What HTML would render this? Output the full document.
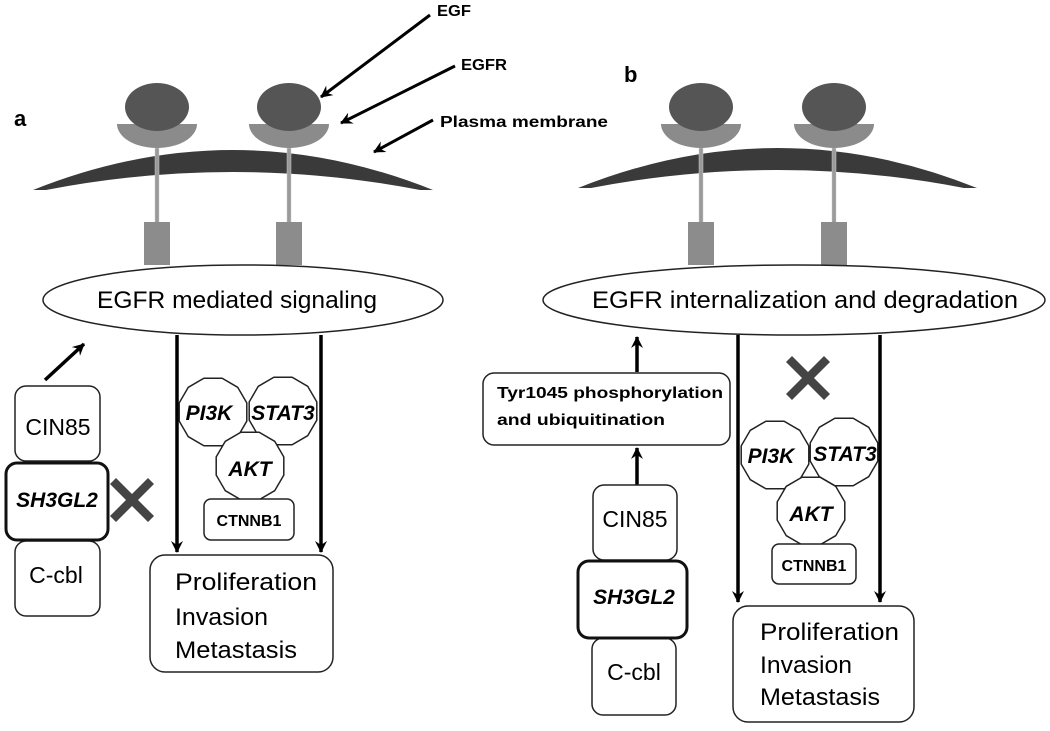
<!DOCTYPE html>
<html><head><meta charset="utf-8"><style>
html,body{margin:0;padding:0;background:#fff;}
svg{display:block;font-family:"Liberation Sans",sans-serif;}
</style></head><body>
<svg width="1050" height="731" viewBox="0 0 1050 731" xmlns="http://www.w3.org/2000/svg">
<defs>
<marker id="ah" viewBox="0 0 12 12" refX="11" refY="6" markerWidth="12" markerHeight="12" markerUnits="userSpaceOnUse" orient="auto">
<path d="M0,0 L12,6 L0,12 L4,6 Z" fill="#000"/>
</marker>
<polygon id="oct" points="33.8,9.1 24.7,24.7 9.1,33.8 -9.1,33.8 -24.7,24.7 -33.8,9.1 -33.8,-9.1 -24.7,-24.7 -9.1,-33.8 9.1,-33.8 24.7,-24.7 33.8,-9.1" fill="#fff" stroke="#222" stroke-width="1.5"/>
<g id="rec">
<rect x="-2" y="0" width="4" height="75" fill="#9a9a9a" stroke="#ccc" stroke-width="0.5"/>
<rect x="-13" y="74" width="26" height="43" fill="#8c8c8c"/>
<path d="M-40,-24 A40,24 0 0 0 40,-24 Z" fill="#8b8b8b"/>
<ellipse cx="0" cy="-41" rx="32" ry="24" fill="#555"/>
</g>
<g id="X"><path d="M-16,-22 L0,-6 L16,-22 L22,-16 L6,0 L22,16 L16,22 L0,6 L-16,22 L-22,16 L-6,0 L-22,-16 Z" fill="#444"/></g>
</defs>

<!-- Panel a -->
<text x="14" y="126" font-size="22" font-weight="bold">a</text>
<path d="M33,190 Q233,110 433,190 L420,190 Q233,154 46,190 Z" fill="#3a3a3a"/>
<use href="#rec" x="157" y="148"/>
<use href="#rec" x="289" y="148"/>

<line x1="430" y1="15" x2="321" y2="97" stroke="#000" stroke-width="3" marker-end="url(#ah)"/>
<line x1="455" y1="66" x2="341" y2="123" stroke="#000" stroke-width="3" marker-end="url(#ah)"/>
<line x1="433" y1="120" x2="374" y2="152" stroke="#000" stroke-width="3" marker-end="url(#ah)"/>
<text x="437" y="16" font-size="16" font-weight="bold" textLength="34" lengthAdjust="spacingAndGlyphs">EGF</text>
<text x="461" y="70" font-size="16" font-weight="bold" textLength="46" lengthAdjust="spacingAndGlyphs">EGFR</text>
<text x="440" y="127" font-size="16" font-weight="bold" textLength="168" lengthAdjust="spacingAndGlyphs">Plasma membrane</text>

<ellipse cx="243" cy="300" rx="200" ry="35" fill="#fff" stroke="#222" stroke-width="1.5"/>
<text x="97" y="308" font-size="24" textLength="280" lengthAdjust="spacingAndGlyphs">EGFR mediated signaling</text>

<line x1="45" y1="380" x2="84" y2="344" stroke="#000" stroke-width="3.5" marker-end="url(#ah)"/>
<rect x="15" y="386" width="85" height="75" rx="11" fill="#fff" stroke="#222" stroke-width="1.5"/>
<text x="58" y="435" font-size="23" text-anchor="middle">CIN85</text>
<rect x="15" y="541" width="85" height="75" rx="11" fill="#fff" stroke="#222" stroke-width="1.5"/>
<text x="56" y="583" font-size="23" text-anchor="middle">C-cbl</text>
<rect x="6" y="463" width="102" height="77" rx="11" fill="#fff" stroke="#111" stroke-width="3"/>
<text x="57" y="507" font-size="21" font-weight="bold" font-style="italic" text-anchor="middle">SH3GL2</text>
<use href="#X" x="132" y="500"/>

<line x1="177" y1="335" x2="177" y2="552" stroke="#000" stroke-width="3.5" marker-end="url(#ah)"/>
<line x1="321" y1="335" x2="321" y2="552" stroke="#000" stroke-width="3.5" marker-end="url(#ah)"/>
<use href="#oct" x="213" y="412"/>
<use href="#oct" x="283" y="411"/>
<use href="#oct" x="250" y="466"/>
<text x="209" y="420" font-size="21" font-weight="bold" font-style="italic" text-anchor="middle">PI3K</text>
<text x="283" y="420" font-size="21" font-weight="bold" font-style="italic" text-anchor="middle">STAT3</text>
<text x="250" y="476" font-size="21" font-weight="bold" font-style="italic" text-anchor="middle">AKT</text>
<rect x="204" y="499" width="90" height="41" rx="7" fill="#fff" stroke="#222" stroke-width="1.5"/>
<text x="249" y="526" font-size="16" font-weight="bold" text-anchor="middle">CTNNB1</text>
<rect x="150" y="555" width="183" height="117" rx="15" fill="#fff" stroke="#222" stroke-width="1.5"/>
<text x="175" y="590" font-size="24" textLength="142" lengthAdjust="spacingAndGlyphs">Proliferation</text>
<text x="175" y="625" font-size="24" textLength="93" lengthAdjust="spacingAndGlyphs">Invasion</text>
<text x="175" y="658" font-size="24" textLength="122" lengthAdjust="spacingAndGlyphs">Metastasis</text>

<!-- Panel b -->
<text x="624" y="82" font-size="22" font-weight="bold">b</text>
<path d="M578,188 Q778,108 977,188 L964,188 Q778,152 591,188 Z" fill="#3a3a3a"/>
<use href="#rec" x="701" y="148"/>
<use href="#rec" x="834" y="148"/>
<ellipse cx="794" cy="300" rx="251" ry="35" fill="#fff" stroke="#222" stroke-width="1.5"/>
<text x="592" y="308" font-size="24" textLength="426" lengthAdjust="spacingAndGlyphs">EGFR internalization and degradation</text>

<line x1="637" y1="372" x2="637" y2="337" stroke="#000" stroke-width="3.5" marker-end="url(#ah)"/>
<rect x="483" y="373" width="247" height="72" rx="11" fill="#fff" stroke="#222" stroke-width="1.5"/>
<text x="497" y="398" font-size="16" font-weight="bold" textLength="226" lengthAdjust="spacingAndGlyphs">Tyr1045 phosphorylation</text>
<text x="497" y="425" font-size="16" font-weight="bold" textLength="168" lengthAdjust="spacingAndGlyphs">and ubiquitination</text>
<line x1="637" y1="485" x2="637" y2="448" stroke="#000" stroke-width="3.5" marker-end="url(#ah)"/>

<rect x="593" y="485" width="84" height="75" rx="11" fill="#fff" stroke="#222" stroke-width="1.5"/>
<text x="635" y="527" font-size="23" text-anchor="middle">CIN85</text>
<rect x="592" y="638" width="84" height="77" rx="11" fill="#fff" stroke="#222" stroke-width="1.5"/>
<text x="634" y="680" font-size="23" text-anchor="middle">C-cbl</text>
<rect x="578" y="561" width="109" height="77" rx="11" fill="#fff" stroke="#111" stroke-width="3"/>
<text x="634" y="604" font-size="21" font-weight="bold" font-style="italic" text-anchor="middle">SH3GL2</text>
<use href="#X" x="808" y="378"/>

<line x1="738" y1="335" x2="738" y2="602" stroke="#000" stroke-width="3.5" marker-end="url(#ah)"/>
<line x1="880" y1="335" x2="880" y2="602" stroke="#000" stroke-width="3.5" marker-end="url(#ah)"/>
<use href="#oct" x="775" y="455"/>
<use href="#oct" x="844" y="452"/>
<use href="#oct" x="811" y="511"/>
<text x="771" y="463" font-size="21" font-weight="bold" font-style="italic" text-anchor="middle">PI3K</text>
<text x="845" y="461" font-size="21" font-weight="bold" font-style="italic" text-anchor="middle">STAT3</text>
<text x="811" y="521" font-size="21" font-weight="bold" font-style="italic" text-anchor="middle">AKT</text>
<rect x="772" y="544" width="84" height="40" rx="7" fill="#fff" stroke="#222" stroke-width="1.5"/>
<text x="814" y="571" font-size="16" font-weight="bold" text-anchor="middle">CTNNB1</text>
<rect x="733" y="606" width="181" height="116" rx="15" fill="#fff" stroke="#222" stroke-width="1.5"/>
<text x="760" y="640" font-size="24" textLength="139" lengthAdjust="spacingAndGlyphs">Proliferation</text>
<text x="760" y="673" font-size="24" textLength="92" lengthAdjust="spacingAndGlyphs">Invasion</text>
<text x="760" y="705" font-size="24" textLength="120" lengthAdjust="spacingAndGlyphs">Metastasis</text>
</svg>
</body></html>
